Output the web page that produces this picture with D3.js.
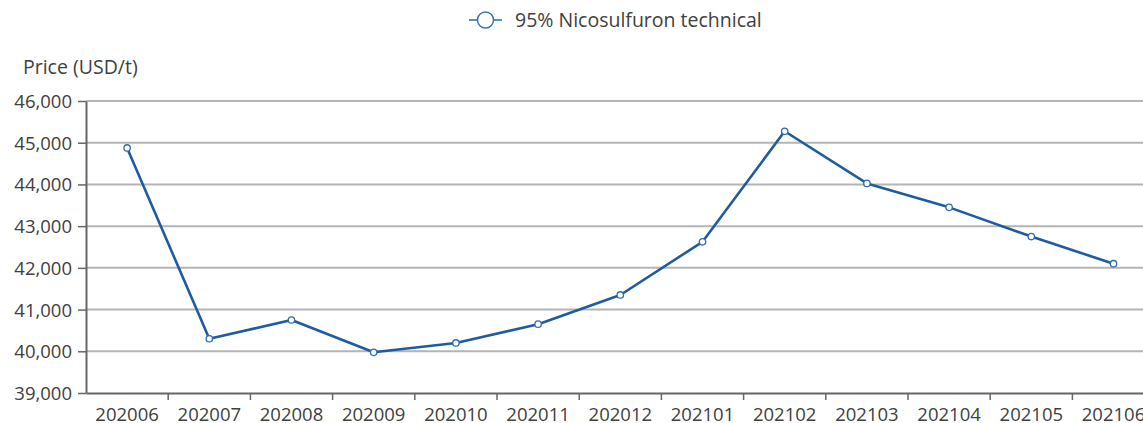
<!DOCTYPE html>
<html>
<head>
<meta charset="utf-8">
<script src="https://cdn.jsdelivr.net/npm/d3@7"></script>
<style>
  body { margin: 0; background: #fff; }
  svg text { font-family: "Open Sans", "Noto Sans", sans-serif; }
</style>
</head>
<body>
<svg id="chart" width="1143" height="423"></svg>
<script>
const months = ['202006', '202007', '202008', '202009', '202010', '202011', '202012',
  '202101', '202102', '202103', '202104', '202105', '202106'];
const prices = [44875, 40300, 40750, 39975, 40200, 40650, 41350, 42625, 45275, 44025, 43450, 42750, 42100];
const yTicks = [39000, 40000, 41000, 42000, 43000, 44000, 45000, 46000];
const seriesName = '95% Nicosulfuron technical';

const svg = d3.select('#chart');
const plotLeft = 86, plotTop = 101, plotBottom = 393;
const bandW = 82.2;

const x = d3.scaleBand().domain(months).range([plotLeft, plotLeft + bandW * months.length]);
const y = d3.scaleLinear().domain([39000, 46000]).range([plotBottom, plotTop]);

// gridlines
svg.append('g')
  .selectAll('line')
  .data(yTicks.slice(1))
  .join('line')
  .attr('x1', plotLeft).attr('x2', 1143)
  .attr('y1', d => y(d)).attr('y2', d => y(d))
  .attr('stroke', '#b4b4b4').attr('stroke-width', 2);

// y axis
const yAxis = svg.append('g')
  .attr('transform', `translate(${plotLeft},0)`)
  .call(d3.axisLeft(y).tickValues(yTicks).tickFormat(d3.format(',')).tickSize(8).tickSizeOuter(0));
yAxis.select('.domain').attr('stroke', '#666').attr('stroke-width', 2);
yAxis.selectAll('.tick line').attr('stroke', '#666').attr('stroke-width', 1.5);
yAxis.selectAll('text').attr('font-size', 18.5).attr('fill', '#404040').attr('x', -14).attr('dy', '0.35em');

// x axis
const xAxis = svg.append('g')
  .attr('transform', `translate(0,${plotBottom})`)
  .call(d3.axisBottom(x).tickSize(0).tickSizeOuter(0));
xAxis.select('.domain').attr('stroke', '#666').attr('stroke-width', 2);
xAxis.selectAll('text').attr('font-size', 18.5).attr('fill', '#404040').attr('y', 22).attr('dy', '0.35em');
// ticks between categories
xAxis.selectAll('.sep')
  .data(months.slice(1))
  .join('line')
  .attr('class', 'sep')
  .attr('x1', d => x(d)).attr('x2', d => x(d))
  .attr('y1', 0).attr('y2', 7)
  .attr('stroke', '#666').attr('stroke-width', 1.5);

// y label
svg.append('text')
  .attr('x', 23).attr('y', 67).attr('dy', '0.35em')
  .attr('font-size', 19.5).attr('fill', '#404040')
  .text('Price (USD/t)');

// line
const cx = d => x(d) + x.bandwidth() / 2;
const line = d3.line().x((d, i) => cx(months[i])).y(d => y(d));
svg.append('path')
  .datum(prices)
  .attr('d', line)
  .attr('fill', 'none')
  .attr('stroke', '#1f5b9f')
  .attr('stroke-width', 2.6)
  .attr('stroke-linejoin', 'round');

svg.append('g')
  .selectAll('circle')
  .data(prices)
  .join('circle')
  .attr('cx', (d, i) => cx(months[i]))
  .attr('cy', d => y(d))
  .attr('r', 3.2)
  .attr('fill', '#fff')
  .attr('stroke', '#2e6bb0')
  .attr('stroke-width', 1.3);

// legend
const lg = svg.append('g').attr('transform', 'translate(0,20)');
lg.append('line').attr('x1', 469).attr('x2', 502).attr('y1', 0).attr('y2', 0)
  .attr('stroke', '#5b8cc8').attr('stroke-width', 2);
lg.append('circle').attr('cx', 485.5).attr('cy', 0).attr('r', 8)
  .attr('fill', '#fff').attr('stroke', '#3a72b5').attr('stroke-width', 1.5);
lg.append('text').attr('x', 515).attr('y', 0).attr('dy', '0.35em')
  .attr('font-size', 19.5).attr('fill', '#404040')
  .text(seriesName);
</script>
</body>
</html>
